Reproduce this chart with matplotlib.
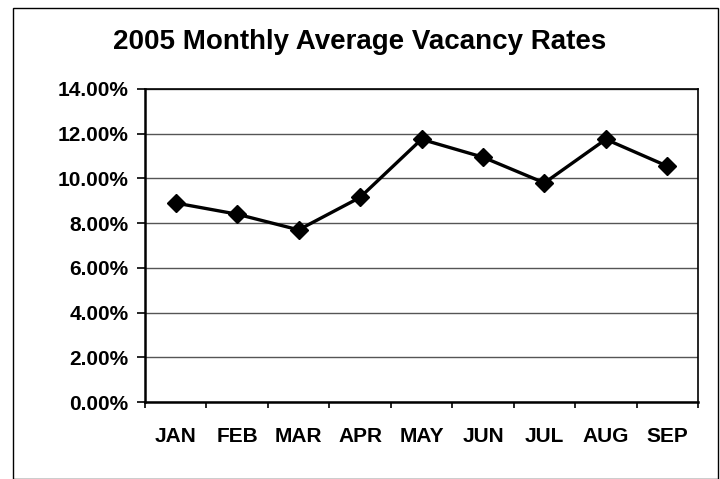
import matplotlib
matplotlib.use("Agg")
import matplotlib.pyplot as plt
from matplotlib.ticker import FuncFormatter, MultipleLocator, FixedLocator
from matplotlib.patches import Rectangle

months = ["JAN", "FEB", "MAR", "APR", "MAY", "JUN", "JUL", "AUG", "SEP"]
rates = [8.9, 8.4, 7.7, 9.15, 11.75, 10.95, 9.8, 11.75, 10.55]

plt.rcParams['font.family'] = ['Liberation Sans', 'DejaVu Sans']

fig = plt.figure(figsize=(7.2, 4.79), dpi=100)
ax = fig.add_axes([145/720, 1 - 402/479, 553/720, 313/479])

x = list(range(len(months)))
ax.plot(x, rates, color="black", lw=2.4, marker="D", ms=9, mfc="black", mec="black", zorder=3)

ax.set_xlim(-0.5, len(months) - 0.5)
ax.set_ylim(0, 14)
ax.yaxis.set_major_locator(MultipleLocator(2))
ax.yaxis.set_major_formatter(FuncFormatter(lambda v, p: f"{v:.2f}%"))
ax.set_xticks(x)
ax.set_xticklabels(months)
ax.xaxis.set_minor_locator(FixedLocator([i + 0.5 for i in range(-1, len(months))]))
ax.tick_params(axis="x", which="major", length=0, pad=18, labelsize=15)
ax.tick_params(axis="x", which="minor", length=4, width=1.2, direction="out")
ax.tick_params(axis="y", length=6, width=1.2, direction="out", labelsize=15, pad=6)
for lab in ax.get_xticklabels() + ax.get_yticklabels():
    lab.set_fontweight("bold")

ax.grid(axis="y", color="#555555", lw=1.0)
ax.set_axisbelow(True)
for s in ["left", "bottom"]:
    ax.spines[s].set_linewidth(1.8)
for s in ["top", "right"]:
    ax.spines[s].set_linewidth(1.2)

fig.text(0.5, 1 - 42/479, "2005 Monthly Average Vacancy Rates", ha="center", va="center",
         fontsize=20, fontweight="bold")

fig.patches.append(Rectangle((13/720, 0), 705/720, 1 - 8/479, transform=fig.transFigure,
                             fill=False, edgecolor="black", lw=1.0))

fig.savefig("out.png", dpi=100)
